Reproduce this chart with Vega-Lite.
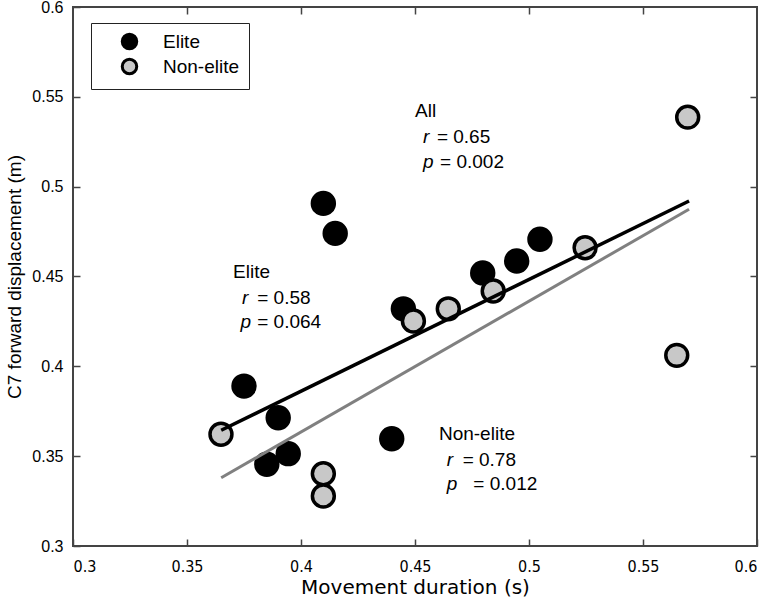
{
  "$schema": "https://vega.github.io/schema/vega-lite/v6.json",
  "width": 684,
  "height": 539,
  "autosize": "none",
  "padding": {"left": 73, "top": 7, "right": 11, "bottom": 57},
  "background": "white",
  "datasets": {
    "players": [
      {"group": "Elite", "duration": 0.4098, "displacement": 0.4907},
      {"group": "Elite", "duration": 0.415, "displacement": 0.474},
      {"group": "Elite", "duration": 0.375, "displacement": 0.389},
      {"group": "Elite", "duration": 0.39, "displacement": 0.3714},
      {"group": "Elite", "duration": 0.385, "displacement": 0.3455},
      {"group": "Elite", "duration": 0.3944, "displacement": 0.3514},
      {"group": "Elite", "duration": 0.4398, "displacement": 0.3597},
      {"group": "Elite", "duration": 0.4449, "displacement": 0.432},
      {"group": "Elite", "duration": 0.4797, "displacement": 0.452},
      {"group": "Elite", "duration": 0.4946, "displacement": 0.4586},
      {"group": "Elite", "duration": 0.5048, "displacement": 0.4707},
      {"group": "Non-elite", "duration": 0.3649, "displacement": 0.3622},
      {"group": "Non-elite", "duration": 0.4098, "displacement": 0.3402},
      {"group": "Non-elite", "duration": 0.4098, "displacement": 0.3278},
      {"group": "Non-elite", "duration": 0.4493, "displacement": 0.4252},
      {"group": "Non-elite", "duration": 0.4646, "displacement": 0.432},
      {"group": "Non-elite", "duration": 0.4843, "displacement": 0.4419},
      {"group": "Non-elite", "duration": 0.5246, "displacement": 0.466},
      {"group": "Non-elite", "duration": 0.5696, "displacement": 0.5387},
      {"group": "Non-elite", "duration": 0.5648, "displacement": 0.4061}
    ],
    "fits": [
      {"fit": "All", "duration": 0.365, "displacement": 0.3644},
      {"fit": "All", "duration": 0.5702, "displacement": 0.492},
      {"fit": "Non-elite", "duration": 0.365, "displacement": 0.338},
      {"fit": "Non-elite", "duration": 0.5702, "displacement": 0.4874}
    ],
    "notes": [
      {"txt": "All", "italic": false, "x": 0.45, "y": 0.5387},
      {"txt": "r", "italic": true, "x": 0.4535, "y": 0.5243},
      {"txt": "= 0.65", "italic": false, "x": 0.4596, "y": 0.5243},
      {"txt": "p", "italic": true, "x": 0.4535, "y": 0.5104},
      {"txt": "= 0.002", "italic": false, "x": 0.461, "y": 0.5104},
      {"txt": "Elite", "italic": false, "x": 0.3702, "y": 0.4491},
      {"txt": "r", "italic": true, "x": 0.3741, "y": 0.4348},
      {"txt": "= 0.58", "italic": false, "x": 0.3808, "y": 0.4348},
      {"txt": "p", "italic": true, "x": 0.3735, "y": 0.4211},
      {"txt": "= 0.064", "italic": false, "x": 0.3808, "y": 0.4211},
      {"txt": "Non-elite", "italic": false, "x": 0.4605, "y": 0.3588},
      {"txt": "r", "italic": true, "x": 0.4639, "y": 0.3445},
      {"txt": "= 0.78", "italic": false, "x": 0.4709, "y": 0.3445},
      {"txt": "p", "italic": true, "x": 0.4639, "y": 0.331},
      {"txt": "= 0.012", "italic": false, "x": 0.4756, "y": 0.331}
    ]
  },
  "layer": [
    {
      "data": {"name": "players"},
      "mark": {"type": "point", "shape": "circle", "filled": true, "size": 480, "stroke": "black", "strokeWidth": 3.5, "opacity": 1},
      "encoding": {
        "x": {
          "field": "duration", "type": "quantitative",
          "scale": {"domain": [0.3, 0.6], "nice": false, "zero": false},
          "axis": {"orient": "bottom", "title": "Movement duration (s)", "values": [0.3, 0.35, 0.4, 0.45, 0.5, 0.55, 0.6], "format": "~g", "tickSize": -7, "labelPadding": 19, "titlePadding": 3, "labelFont": "DejaVu Sans Condensed", "labelFontSize": 16, "titleFont": "DejaVu Sans", "titleFontSize": 20}
        },
        "y": {
          "field": "displacement", "type": "quantitative",
          "scale": {"domain": [0.3, 0.6], "nice": false, "zero": false},
          "axis": {"orient": "left", "title": "C7 forward displacement (m)", "values": [0.3, 0.35, 0.4, 0.45, 0.5, 0.55, 0.6], "format": "~g", "tickSize": -7, "labelPadding": 17, "titlePadding": 7, "labelFont": "Liberation Sans", "labelFontSize": 16, "titleFont": "Liberation Sans", "titleFontSize": 19}
        },
        "color": {
          "field": "group", "type": "nominal",
          "scale": {"domain": ["Elite", "Non-elite"], "range": ["black", "#c8c8c8"]},
          "legend": {
            "title": null, "orient": "none", "legendX": 18, "legendY": 16,
            "strokeColor": "#222", "fillColor": "white",
            "padding": 9, "symbolOffset": 20, "symbolType": "circle", "symbolSize": 210,
            "symbolStrokeColor": "black", "symbolStrokeWidth": 3, "labelOffset": 24,
            "labelFontSize": 19, "labelFont": "Liberation Sans", "labelColor": "black", "rowPadding": -2
          }
        }
      }
    },
    {
      "data": {"name": "fits"},
      "transform": [{"filter": "datum.fit === 'All'"}],
      "mark": {"type": "line", "color": "black", "strokeWidth": 3.5},
      "encoding": {
        "x": {"field": "duration", "type": "quantitative", "axis": {"orient": "top", "title": null, "labels": false, "domain": false, "values": [0.35, 0.4, 0.45, 0.5, 0.55], "tickSize": -7}},
        "y": {"field": "displacement", "type": "quantitative", "axis": {"orient": "right", "title": null, "labels": false, "domain": false, "values": [0.35, 0.4, 0.45, 0.5, 0.55], "tickSize": -7}}
      }
    },
    {
      "data": {"name": "fits"},
      "transform": [{"filter": "datum.fit === 'Non-elite'"}],
      "mark": {"type": "line", "color": "#808080", "strokeWidth": 3},
      "encoding": {
        "x": {"field": "duration", "type": "quantitative", "axis": null},
        "y": {"field": "displacement", "type": "quantitative", "axis": null}
      }
    },
    {
      "data": {"name": "notes"},
      "transform": [{"filter": "!datum.italic"}],
      "mark": {"type": "text", "align": "left", "baseline": "alphabetic", "fontSize": 19, "font": "Liberation Sans", "color": "black"},
      "encoding": {
        "x": {"field": "x", "type": "quantitative", "axis": null},
        "y": {"field": "y", "type": "quantitative", "axis": null},
        "text": {"field": "txt"}
      }
    },
    {
      "data": {"name": "notes"},
      "transform": [{"filter": "datum.italic"}],
      "mark": {"type": "text", "align": "left", "baseline": "alphabetic", "fontSize": 19, "font": "Liberation Sans", "fontStyle": "italic", "color": "black"},
      "encoding": {
        "x": {"field": "x", "type": "quantitative", "axis": null},
        "y": {"field": "y", "type": "quantitative", "axis": null},
        "text": {"field": "txt"}
      }
    }
  ],
  "resolve": {"axis": {"x": "independent", "y": "independent"}},
  "config": {
    "view": {"stroke": "#444", "strokeWidth": 2},
    "axis": {
      "grid": false, "domain": false, "tickColor": "#444", "tickWidth": 1.5,
      "labelColor": "black", "titleFontWeight": "normal", "titleColor": "black"
    }
  }
}
